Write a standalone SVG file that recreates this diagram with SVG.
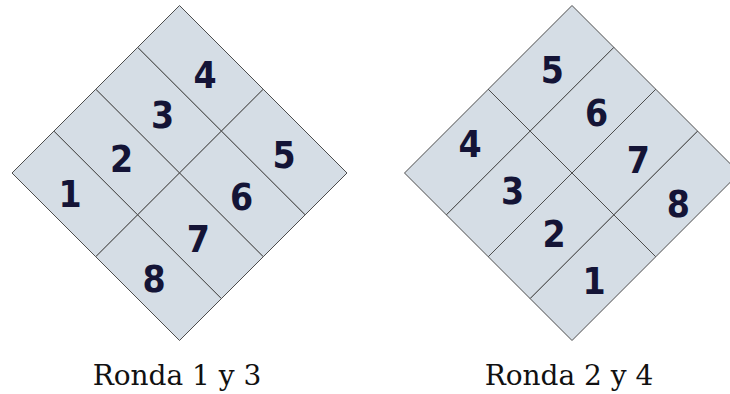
<svg xmlns="http://www.w3.org/2000/svg" width="730" height="394" viewBox="0 0 730 394">
<style>
.cell{fill:#d5dde5;stroke:#4d4d4d;stroke-width:1;stroke-linejoin:miter}
.num{font-family:"DejaVu Sans","Liberation Sans",sans-serif;font-weight:bold;font-stretch:condensed;font-size:37px;fill:#141436;text-anchor:middle}
.lbl{font-family:"DejaVu Serif","Liberation Serif",serif;font-size:28px;fill:#111;text-anchor:middle}
</style>
<rect width="730" height="394" fill="#ffffff"/>
<g id="ronda13">
<g id="L4"><polygon class="cell" points="179.5,5.5 263.25,89.25 221.375,131.125 137.625,47.375"/><text class="num" x="205" y="88">4</text></g>
<g id="L5"><polygon class="cell" points="263.25,89.25 347,173 305.125,214.875 221.375,131.125"/><text class="num" x="284" y="168.3">5</text></g>
<g id="L3"><polygon class="cell" points="137.625,47.375 221.375,131.125 179.5,173 95.75,89.25"/><text class="num" x="162.7" y="128.3">3</text></g>
<g id="L6"><polygon class="cell" points="221.375,131.125 305.125,214.875 263.25,256.75 179.5,173"/><text class="num" x="241.7" y="210">6</text></g>
<g id="L2"><polygon class="cell" points="95.75,89.25 179.5,173 137.625,214.875 53.875,131.125"/><text class="num" x="121.7" y="171.7">2</text></g>
<g id="L7"><polygon class="cell" points="179.5,173 263.25,256.75 221.375,298.625 137.625,214.875"/><text class="num" x="198.3" y="251.7">7</text></g>
<g id="L1"><polygon class="cell" points="53.875,131.125 137.625,214.875 95.75,256.75 12,173"/><text class="num" x="70" y="206.7">1</text></g>
<g id="L8"><polygon class="cell" points="137.625,214.875 221.375,298.625 179.5,340.5 95.75,256.75"/><text class="num" x="154" y="291.7">8</text></g>
</g>
<g id="ronda24">
<g id="R5"><polygon class="cell" points="572,5.5 613.875,47.375 530.125,131.125 488.25,89.25"/><text class="num" x="552.3" y="83.3">5</text></g>
<g id="R4"><polygon class="cell" points="488.25,89.25 530.125,131.125 446.375,214.875 404.5,173"/><text class="num" x="470" y="156.7">4</text></g>
<g id="R6"><polygon class="cell" points="613.875,47.375 655.75,89.25 572,173 530.125,131.125"/><text class="num" x="596.7" y="126">6</text></g>
<g id="R3"><polygon class="cell" points="530.125,131.125 572,173 488.25,256.75 446.375,214.875"/><text class="num" x="512.7" y="204">3</text></g>
<g id="R7"><polygon class="cell" points="655.75,89.25 697.625,131.125 613.875,214.875 572,173"/><text class="num" x="638.3" y="173.3">7</text></g>
<g id="R2"><polygon class="cell" points="572,173 613.875,214.875 530.125,298.625 488.25,256.75"/><text class="num" x="554" y="246.7">2</text></g>
<g id="R8"><polygon class="cell" points="697.625,131.125 739.5,173 655.75,256.75 613.875,214.875"/><text class="num" x="678.3" y="216.7">8</text></g>
<g id="R1"><polygon class="cell" points="613.875,214.875 655.75,256.75 572,340.5 530.125,298.625"/><text class="num" x="594" y="294">1</text></g>
</g>
<g id="connectors"/>
<g id="labels">
<text class="lbl" x="177" y="385">Ronda 1 y 3</text>
<text class="lbl" x="569" y="385">Ronda 2 y 4</text>
</g>
</svg>
